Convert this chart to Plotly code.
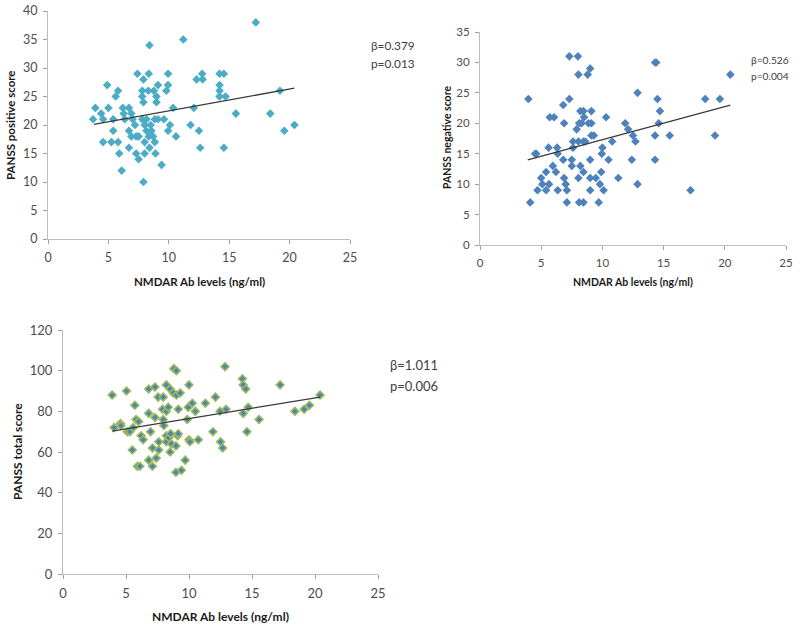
import plotly.graph_objects as go

# ---------------- data ----------------
pos_x = [3.73, 3.92, 4.4, 4.56, 4.56, 4.9, 5.0, 5.25, 5.4, 5.4, 5.6, 5.8, 5.8, 5.9, 6.1,
         6.2, 6.27, 6.35, 6.7, 6.7, 6.7, 6.9, 7.0, 6.9, 7.2, 7.3, 7.3, 7.4, 7.5, 7.5,
         7.8, 7.8, 7.9, 7.9, 7.8, 7.9, 8.0, 8.0, 8.0, 8.15, 8.15, 8.3, 8.34, 8.4, 8.34,
         8.4, 8.5, 8.56, 8.7, 8.76, 8.84, 8.84, 8.9, 8.98, 8.98, 9.1, 9.1, 9.4, 9.6, 9.8,
         9.94, 9.94, 9.94, 10.1, 10.36, 10.6, 11.2, 11.8, 12.07, 12.3, 12.5, 12.6, 12.76, 12.8,
         14.2, 14.2, 14.2, 14.2, 14.56, 14.56, 14.7, 15.55, 17.2, 18.4, 19.2, 19.56, 20.4]
pos_y = [21, 23, 22, 21, 17, 27, 23, 17, 21, 19, 25, 26, 17, 15, 12,
         23, 22, 21, 23, 19, 16, 22, 21, 18, 20, 18, 15, 29, 14, 18,
         21, 26, 28, 24, 25, 10, 15, 20, 17, 19, 21, 26, 29, 34, 18,
         16, 20, 19, 18, 26, 21, 17, 15, 25, 24, 27, 21, 13, 21, 26,
         29, 27, 19, 20, 23, 18, 35, 20, 23, 28, 19, 16, 29, 28,
         29, 27, 26, 25, 29, 16, 25, 22, 38, 22, 26, 19, 20]

neg_x = [3.95, 4.1, 4.5, 4.6, 4.7, 5.0, 5.1, 5.4, 5.4, 5.6, 5.64, 5.7, 6.05, 5.95, 6.2,
         6.3, 6.35, 6.35, 6.8, 6.8, 6.87, 6.87, 7.0, 7.1, 7.1, 7.3, 7.3, 7.5, 7.5, 7.6,
         7.6, 7.9, 8.0, 8.04, 8.04, 8.04, 8.1, 8.1, 8.2, 8.2, 8.3, 8.45, 8.45, 8.45, 8.45,
         8.5, 8.6, 8.8, 8.86, 9.0, 9.0, 9.0, 9.0, 9.1, 9.1, 9.1, 9.3, 9.46, 9.7, 9.8,
         9.9, 9.95, 10.0, 10.1, 10.3, 10.5, 10.8, 11.3, 11.86, 12.1, 12.4, 12.5, 12.7, 12.87,
         12.87, 14.3, 14.4, 14.3, 14.3, 14.5, 14.6, 14.7, 15.5, 17.2, 18.4, 19.2, 19.6, 20.45]
neg_y = [24, 7, 15, 15, 9, 11, 10, 9, 12, 16, 10, 21, 21, 13, 12,
         16, 15, 9, 23, 14, 11, 20, 10, 9, 7, 24, 31, 14, 13, 17,
         16, 19, 31, 28, 17, 11, 7, 20, 22, 13, 20, 17, 22, 12, 7,
         21, 17, 28, 20, 29, 14, 11, 9, 22, 20, 18, 18, 11, 7, 10,
         12, 15, 16, 9, 21, 14, 17, 11, 20, 19, 14, 18, 17, 25,
         10, 30, 30, 18, 14, 24, 20, 22, 18, 9, 24, 18, 24, 28]

tot_x = [3.9, 4.06, 4.56, 4.6, 5.04, 5.1, 5.3, 5.5, 5.57, 5.7, 5.8, 5.9, 6.0, 6.1, 6.2,
         6.36, 6.8, 6.8, 6.8, 6.95, 7.1, 7.1, 7.3, 7.3, 7.4, 7.55, 7.6, 7.6, 7.95, 7.9,
         7.95, 8.0, 8.2, 8.2, 8.2, 8.2, 8.35, 8.4, 8.5, 8.5, 8.54, 8.6, 8.75, 8.8, 8.96,
         9.0, 9.0, 8.96, 9.1, 9.15, 9.15, 9.3, 9.4, 9.7, 9.86, 9.94, 10.0, 10.0, 10.07, 10.26,
         10.5, 10.74, 11.3, 11.9, 12.1, 12.46, 12.5, 12.67, 12.86, 12.94, 14.24, 14.3, 14.3, 14.5, 14.6,
         14.7, 15.56, 17.23, 18.4, 19.14, 19.56, 20.4]
tot_y = [88, 72, 74, 73, 90, 70, 70, 61, 72, 83, 76, 53, 75, 53, 68,
         66, 79, 91, 56, 70, 53, 62, 92, 77, 57, 87, 65, 61, 87, 81,
         76, 73, 93, 80, 68, 65, 82, 67, 60, 91, 69, 64, 89, 101, 63,
         100, 88, 50, 68, 81, 69, 89, 51, 56, 76, 82, 93, 66, 65, 84,
         80, 66, 84, 70, 87, 80, 65, 62, 102, 81, 96, 93, 79, 91, 70,
         82, 76, 93, 80, 81, 83, 88]

# regression lines (endpoints)
pos_trend_x = [3.8, 20.4]
pos_trend_y = [20.1, 26.45]
neg_trend_x = [3.9, 20.45]
neg_trend_y = [14.0, 23.0]
tot_trend_x = [3.9, 20.4]
tot_trend_y = [70.3, 87.0]

beta_labels = ["β=0.379", "β=0.526", "β=1.011"]
p_labels = ["p=0.013", "p=0.004", "p=0.006"]
y_titles = ["PANSS positive score", "PANSS negative score", "PANSS total score"]
x_title = "NMDAR Ab levels (ng/ml)"

# ---------------- figure ----------------
FONT = "Lato"
AXIS_COL = "#BDBDBD"
TICK_COL = "#4D4D4D"

fig = go.Figure()

def add_panel(xs, ys, tx, ty, xa, ya, color, line_color=None):
    fig.add_trace(go.Scatter(
        x=xs, y=ys, mode="markers", xaxis=xa, yaxis=ya, showlegend=False,
        marker=dict(symbol="diamond", size=6.6 if line_color is None else 6.0, color=color,
                    line=dict(color=line_color if line_color else color,
                              width=1.6 if line_color else 0)),
        cliponaxis=False))
    fig.add_trace(go.Scatter(
        x=tx, y=ty, mode="lines", xaxis=xa, yaxis=ya, showlegend=False,
        line=dict(color="#3A3A3A", width=1.3)))

add_panel(pos_x, pos_y, pos_trend_x, pos_trend_y, "x", "y", "#4BACC6")
add_panel(neg_x, neg_y, neg_trend_x, neg_trend_y, "x2", "y2", "#4F81BD")
add_panel(tot_x, tot_y, tot_trend_x, tot_trend_y, "x3", "y3", "#4F81BD", "#9BBB59")

W, H = 800, 630
def px_x(p): return p / W
def px_y(p): return 1 - p / H

def xaxis(dom, anchor, size):
    return dict(domain=dom, anchor=anchor, range=[0, 25], tickvals=[0, 5, 10, 15, 20, 25],
                showline=True, linecolor=AXIS_COL, linewidth=1, showgrid=False, zeroline=False,
                ticks="outside", ticklen=4, tickcolor="#A0A0A0", ticklabelstandoff=3,
                automargin=False,
                tickfont=dict(family=FONT, size=size, color=TICK_COL), fixedrange=True)

def yaxis(dom, anchor, rng, step, size):
    return dict(domain=dom, anchor=anchor, range=rng, dtick=step, tick0=0,
                showline=True, linecolor=AXIS_COL, linewidth=1, showgrid=False, zeroline=False,
                ticks="outside", ticklen=4, tickcolor="#A0A0A0", ticklabelstandoff=3,
                automargin=False,
                tickfont=dict(family=FONT, size=size, color=TICK_COL), fixedrange=True)

fig.update_layout(
    width=W, height=H, margin=dict(l=0, r=0, t=0, b=0, autoexpand=False),
    paper_bgcolor="white", plot_bgcolor="white",
    font=dict(family=FONT, color="#222222"),
    xaxis=xaxis([px_x(48), px_x(350)], "y", 12.5),
    yaxis=yaxis([px_y(239), px_y(11)], "x", [0, 40], 5, 12.5),
    xaxis2=xaxis([px_x(480), px_x(786)], "y2", 11.5),
    yaxis2=yaxis([px_y(245), px_y(32)], "x2", [0, 35], 5, 11.5),
    xaxis3=xaxis([px_x(63), px_x(378)], "y3", 13),
    yaxis3=yaxis([px_y(574), px_y(330)], "x3", [0, 120], 20, 13),
)

anns = []
# x titles
for cx, cy, s in [(199, 281, 11.5), (633, 282, 10.5), (220, 616, 12)]:
    anns.append(dict(text=f"<b>{x_title}</b>", x=px_x(cx), y=px_y(cy), xref="paper", yref="paper",
                     xanchor="center", yanchor="middle", showarrow=False,
                     font=dict(family=FONT, size=s, color="#1A1A1A")))
# y titles
for cx, cy, s, t in [(11, 125, 11.5, y_titles[0]), (447, 138, 10.5, y_titles[1]), (17, 452, 12, y_titles[2])]:
    anns.append(dict(text=f"<b>{t}</b>", x=px_x(cx), y=px_y(cy), xref="paper", yref="paper",
                     xanchor="center", yanchor="middle", textangle=-90, showarrow=False,
                     font=dict(family=FONT, size=s, color="#1A1A1A")))
# stats (beta line and p line)
for i, (lx, by, py, s) in enumerate([(369, 46, 64, 11.8), (749, 60, 76, 10.2), (388, 365, 386, 13)]):
    for t, yy in [(beta_labels[i], by), (p_labels[i], py)]:
        anns.append(dict(text=t, x=px_x(lx), y=px_y(yy), xref="paper", yref="paper",
                         xanchor="left", yanchor="middle", align="left", showarrow=False,
                         font=dict(family=FONT, size=s, color="#404040")))
fig.update_layout(annotations=anns)

# put the figure at the very top-left of the window (remove the page's default body margin)
fig.write_html("out.html", config={"displayModeBar": False, "staticPlot": True},
               post_script="document.body.style.margin='0px';")
